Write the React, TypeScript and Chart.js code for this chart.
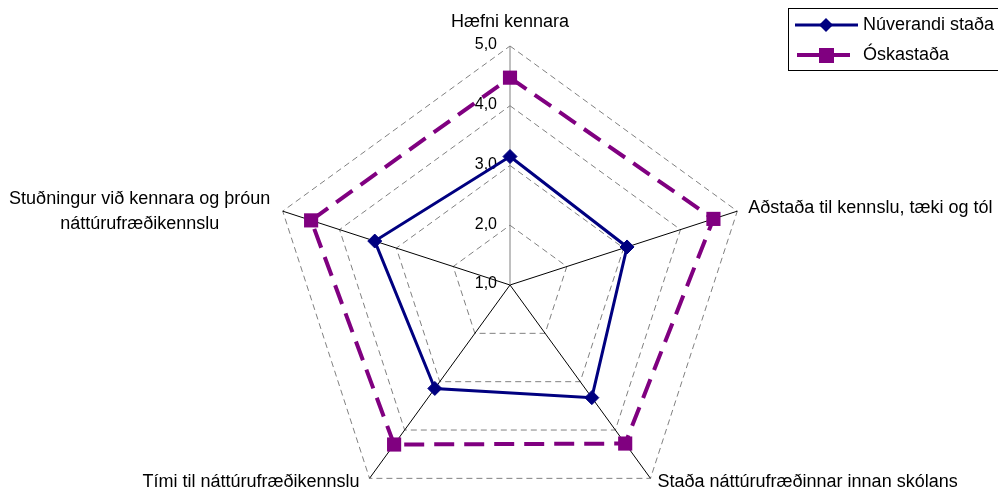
import React, { useEffect, useRef } from "react";
import { Chart, registerables } from "chart.js";

Chart.register(...registerables);

const categories: (string | string[])[] = [
  "Hæfni kennara",
  "Aðstaða til kennslu, tæki og tól",
  "Staða náttúrufræðinnar innan skólans",
  "Tími til náttúrufræðikennslu",
  ["Stuðningur við kennara og þróun", "náttúrufræðikennslu"],
];
const currentValues = [3.15, 3.06, 3.33, 3.14, 3.38];
const desiredValues = [4.47, 4.58, 4.28, 4.3, 4.5];
const tickValues = [1, 2, 3, 4, 5];
const tickLabels = ["1,0", "2,0", "3,0", "4,0", "5,0"];
const seriesNames = ["Núverandi staða", "Óskastaða"];

const NAVY = "#000080";
const PURPLE = "#800080";
const FONT_FAMILY = '"Liberation Sans", Arial, sans-serif';

const labelPlacement = [
  { dx: 0, dy: -24, align: "center" },
  { dx: 11, dy: -3, align: "left" },
  { dx: 7, dy: 4, align: "left" },
  { dx: -10, dy: 4, align: "right" },
  { dx: -143, dy: 0, align: "center" },
];

const overlayPlugin = {
  id: "overlay",
  beforeDatasetsDraw(chart: any) {
    const s = chart.scales.r;
    const ctx = chart.ctx;
    ctx.save();
    ctx.fillStyle = "#000";
    ctx.font = "16px " + FONT_FAMILY;
    ctx.textAlign = "right";
    ctx.textBaseline = "middle";
    tickValues.forEach((v, i) => {
      const p = s.getPointPositionForValue(0, v);
      ctx.fillText(tickLabels[i], p.x - 13, p.y - 1);
    });
    ctx.font = "18px " + FONT_FAMILY;
    categories.forEach((lab, i) => {
      const p = s.getPointPositionForValue(i, s.max);
      const pl = labelPlacement[i];
      ctx.textAlign = pl.align;
      const lines = Array.isArray(lab) ? lab : [lab];
      const lh = 25;
      lines.forEach((ln, j) => {
        const y = p.y + pl.dy + (j - (lines.length - 1) / 2) * lh;
        ctx.fillText(ln, p.x + pl.dx, y);
      });
    });
    ctx.restore();
  },
  afterDraw(chart: any) {
    const ctx = chart.ctx;
    ctx.save();
    ctx.strokeStyle = "#000";
    ctx.lineWidth = 1;
    ctx.strokeRect(788.5, 8.5, 220, 62);
    // entry 1
    ctx.strokeStyle = NAVY;
    ctx.lineWidth = 3;
    ctx.beginPath();
    ctx.moveTo(795, 25);
    ctx.lineTo(858, 25);
    ctx.stroke();
    ctx.fillStyle = NAVY;
    ctx.beginPath();
    ctx.moveTo(826, 18);
    ctx.lineTo(833, 25);
    ctx.lineTo(826, 32);
    ctx.lineTo(819, 25);
    ctx.closePath();
    ctx.fill();
    // entry 2
    ctx.strokeStyle = PURPLE;
    ctx.lineWidth = 4;
    ctx.beginPath();
    ctx.moveTo(797, 55);
    ctx.lineTo(850, 55);
    ctx.stroke();
    ctx.fillStyle = PURPLE;
    ctx.fillRect(819, 48, 15, 15);
    ctx.fillStyle = "#000";
    ctx.font = "18px " + FONT_FAMILY;
    ctx.textAlign = "left";
    ctx.textBaseline = "middle";
    ctx.fillText(seriesNames[0], 863, 25);
    ctx.fillText(seriesNames[1], 863, 55);
    ctx.restore();
  },
};

export default function App() {
  const ref = useRef<HTMLCanvasElement | null>(null);
  useEffect(() => {
    if (!ref.current) return;
    const chart = new Chart(ref.current, {
      type: "radar",
      data: {
        labels: categories as any,
        datasets: [
          {
            label: seriesNames[0],
            data: currentValues,
            borderColor: NAVY,
            backgroundColor: "transparent",
            fill: false,
            borderWidth: 3,
            tension: 0,
            pointStyle: "rectRot",
            pointRadius: 7,
            pointBackgroundColor: NAVY,
            pointBorderColor: NAVY,
            pointBorderWidth: 1,
          },
          {
            label: seriesNames[1],
            data: desiredValues,
            borderColor: PURPLE,
            backgroundColor: "transparent",
            fill: false,
            borderWidth: 4,
            borderDash: [20, 10],
            tension: 0,
            pointStyle: "rect",
            pointRadius: 10,
            pointBackgroundColor: PURPLE,
            pointBorderColor: PURPLE,
            pointBorderWidth: 0,
          },
        ],
      },
      options: {
        responsive: false,
        animation: false,
        events: [],
        layout: { padding: 0 },
        plugins: { legend: { display: false }, tooltip: { enabled: false } },
        scales: {
          r: {
            min: 1,
            max: 5,
            ticks: { display: false, stepSize: 1 },
            pointLabels: { display: false },
            grid: { color: "#808080", lineWidth: 1 },
            border: { dash: [6, 4] },
            angleLines: {
              color: (c: any) => (c.index === 0 ? "#808080" : "#000000"),
              lineWidth: 1,
            },
            afterFit: (scale: any) => {
              scale.xCenter = 510;
              scale.yCenter = 285;
              scale.drawingArea = 239;
            },
          } as any,
        },
      },
      plugins: [overlayPlugin as any],
    });
    return () => chart.destroy();
  }, []);
  return (
    <div style={{ position: "fixed", left: 0, top: 0, width: 998, height: 493, background: "#fff" }}>
      <canvas ref={ref} width={998} height={493} style={{ display: "block" }} />
    </div>
  );
}
